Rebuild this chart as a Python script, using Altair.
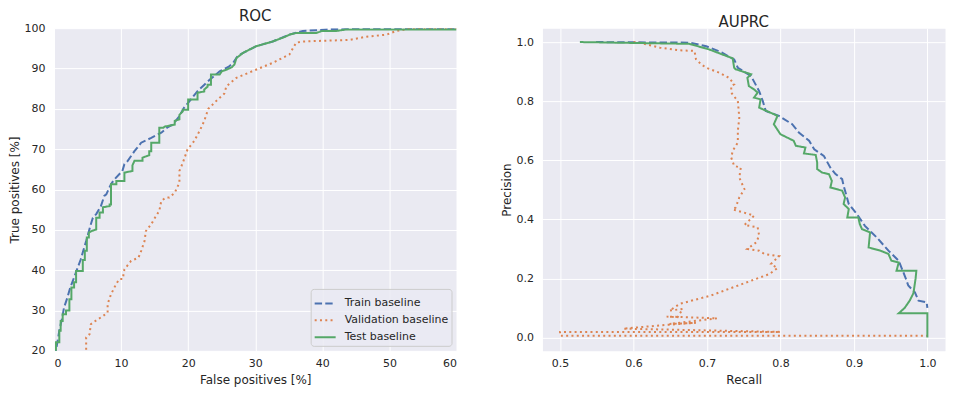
import altair as alt
import pandas as pd

# ---------------- data ----------------
series_names = ["Train baseline", "Validation baseline", "Test baseline"]
series_colors = ["#4C72B0", "#DD8452", "#55A868"]

roc_x_ticks = [0, 10, 20, 30, 40, 50, 60]
roc_y_ticks = [20, 30, 40, 50, 60, 70, 80, 90, 100]
pr_x_ticks = [0.5, 0.6, 0.7, 0.8, 0.9, 1.0]
pr_y_ticks = [0.0, 0.2, 0.4, 0.6, 0.8, 1.0]

roc_train_fp = [0, 0.3, 0.3, 0.8, 1.2, 1.5, 2.0, 2.4, 2.8, 3.4, 4.0, 4.4, 4.8, 5.5, 5.8, 6.3, 7.0, 7.5,
                7.8, 8.5, 9.0, 10.2, 10.5, 11.0, 12.0, 13.0, 14.5, 16.0, 17.0, 17.7, 18.7, 19.4, 20.4,
                21.4, 22.3, 23.2, 24.7, 26.0, 26.7, 27.4, 28.2, 30.1, 32.6, 35.1, 37.1, 41.1, 53.0, 60]
roc_train_tp = [0, 18, 20, 25, 28, 30.7, 33.2, 35.5, 37.3, 40, 42.7, 45, 47.2, 51.4, 53, 53.9, 55.9, 58.4,
                58.8, 61.3, 62.5, 64.6, 66.3, 67.1, 69.5, 71.6, 72.8, 74.1, 75.5, 76.1, 78.2, 80.3, 82.3,
                84.4, 85.8, 87.2, 89.3, 90.4, 91.4, 93.1, 93.9, 95.5, 96.7, 98.4, 99.3, 99.7, 100, 100]

roc_val_fp = [4.8, 4.8, 5.3, 5.5, 6.5, 7.2, 8.0, 8.0, 8.5, 9.25, 9.75, 10.25, 10.5, 11.5, 12.6, 13.0,
              13.5, 13.7, 14.5, 15.2, 15.7, 16.0, 16.7, 17.2, 18.0, 18.7, 18.7, 19.2, 19.9, 20.9, 21.7,
              22.4, 23.0, 23.8, 24.4, 25.4, 25.7, 27.2, 30.1, 32.6, 35.1, 36.1, 37.1, 44.1, 46.6, 49.6,
              51.0, 53.5, 60]
roc_val_tp = [15, 23.3, 24.1, 26.6, 27.8, 28.5, 29.5, 31.6, 34.0, 36.5, 37.8, 37.8, 40.2, 42.3, 43.1, 44.8,
              47.2, 49.7, 51.4, 53.4, 54.7, 57.2, 58.0, 58.0, 59.2, 61.7, 64.6, 66.6, 69.9, 72.0, 74.5,
              77.0, 80.0, 81.3, 82.3, 83.8, 85.6, 87.7, 89.7, 91.4, 93.5, 96.4, 96.7, 97.1, 97.9, 98.4,
              99.3, 100, 100]

roc_test_fp = [0, 0.3, 0.3, 0.8, 0.8, 1.0, 1.0, 1.3, 1.3, 1.8, 1.8, 2.3, 2.3, 2.6, 2.6, 3.0, 3.0, 3.3,
               3.3, 4.3, 4.3, 4.6, 4.6, 4.9, 4.9, 5.2, 5.2, 5.6, 6.3, 6.3, 6.8, 6.8, 7.3, 7.3, 8.3, 8.3,
               8.5, 8.5, 9.3, 9.3, 10.5, 10.5, 11.7, 11.7, 12.0, 13.2, 13.2, 14.2, 14.2, 14.5, 14.5, 15.7,
               15.7, 16.3, 16.5, 18.0, 18.0, 18.7, 18.7, 19.2, 19.2, 20.0, 20.0, 21.4, 21.4, 22.4, 22.4,
               22.9, 22.9, 23.4, 23.4, 24.7, 25.0, 25.7, 26.5, 26.9, 27.2, 28.2, 30.1, 32.6, 34.5, 35.1,
               36.1, 39.1, 39.9, 42.1, 43.6, 60]
roc_test_tp = [0, 0, 22.1, 22.1, 25.0, 25.0, 27.4, 27.4, 29.1, 29.1, 30.0, 30.0, 32.8, 32.8, 35.7, 35.7,
               37.0, 37.0, 39.8, 39.8, 42.5, 42.5, 44.8, 44.8, 48.1, 48.1, 49.3, 49.7, 50.1, 53.0, 53.0,
               54.3, 54.3, 55.6, 55.9, 56.3, 56.3, 61.3, 61.3, 62.1, 62.1, 64.2, 64.6, 66.0, 67.1, 67.1,
               67.9, 68.5, 69.5, 69.5, 71.6, 71.6, 75.3, 75.3, 75.6, 76.1, 77.0, 77.4, 78.5, 79.4, 79.8,
               79.8, 82.3, 82.3, 84.0, 84.3, 84.8, 85.5, 86.0, 86.0, 88.5, 88.5, 89.3, 89.7, 90.3, 91.0,
               92.6, 93.9, 95.5, 96.7, 97.9, 98.4, 98.8, 98.8, 99.3, 99.3, 99.7, 99.7]

pr_train_recall = [0.549, 0.676, 0.699, 0.72, 0.737, 0.742, 0.76, 0.771, 0.776, 0.78, 0.798, 0.816, 0.825,
                   0.839, 0.846, 0.859, 0.868, 0.875, 0.884, 0.886, 0.893, 0.904, 0.915, 0.931, 0.947,
                   0.961, 0.970, 0.974, 0.983, 0.988, 0.999, 1.0]
pr_train_precision = [1.0, 0.998, 0.986, 0.965, 0.941, 0.913, 0.885, 0.834, 0.80, 0.767, 0.75, 0.722, 0.694,
                      0.666, 0.637, 0.615, 0.575, 0.553, 0.536, 0.514, 0.452, 0.418, 0.378, 0.339, 0.294,
                      0.26, 0.204, 0.176, 0.153, 0.125, 0.119, 0.10]

pr_val_recall = [0.60, 0.608, 0.636, 0.663, 0.683, 0.685, 0.692, 0.699, 0.717, 0.730, 0.737, 0.733, 0.733,
                 0.742, 0.744, 0.742, 0.742, 0.735, 0.733, 0.737, 0.746, 0.744, 0.751, 0.744, 0.739, 0.735,
                 0.757, 0.764, 0.751, 0.769, 0.771, 0.767, 0.755, 0.771, 0.778, 0.798, 0.787, 0.796, 0.785,
                 0.705, 0.663, 0.649, 0.667, 0.660, 0.645, 0.714, 0.649, 0.685, 0.636, 0.586, 0.645, 0.80,
                 0.5, 0.5, 1.0]
pr_val_precision = [1.0, 0.998, 0.981, 0.972, 0.970, 0.942, 0.925, 0.913, 0.896, 0.879, 0.857, 0.851, 0.829,
                    0.80, 0.744, 0.70, 0.66, 0.632, 0.609, 0.581, 0.575, 0.541, 0.502, 0.474, 0.440, 0.434,
                    0.418, 0.412, 0.381, 0.373, 0.345, 0.322, 0.30, 0.294, 0.283, 0.275, 0.249, 0.235, 0.215,
                    0.142, 0.114, 0.091, 0.097, 0.069, 0.071, 0.065, 0.046, 0.050, 0.041, 0.030, 0.027, 0.019,
                    0.019, 0.006, 0.006]

pr_test_recall = [0.527, 0.676, 0.703, 0.721, 0.735, 0.737, 0.739, 0.760, 0.755, 0.757, 0.764, 0.769, 0.764,
                  0.773, 0.771, 0.791, 0.796, 0.791, 0.800, 0.818, 0.821, 0.834, 0.832, 0.848, 0.850, 0.850,
                  0.857, 0.866, 0.870, 0.868, 0.884, 0.888, 0.886, 0.893, 0.891, 0.906, 0.908, 0.911, 0.922,
                  0.920, 0.936, 0.947, 0.951, 0.961, 0.958, 0.985, 0.984, 0.981, 0.976, 0.969, 0.961, 1.0, 1.0]
pr_test_precision = [1.0, 0.994, 0.975, 0.958, 0.945, 0.913, 0.908, 0.891, 0.879, 0.851, 0.840, 0.829, 0.812,
                     0.806, 0.778, 0.756, 0.75, 0.722, 0.688, 0.666, 0.649, 0.643, 0.623, 0.618, 0.592, 0.570,
                     0.558, 0.553, 0.530, 0.508, 0.497, 0.474, 0.452, 0.435, 0.406, 0.406, 0.384, 0.367, 0.356,
                     0.305, 0.294, 0.283, 0.26, 0.254, 0.226, 0.226, 0.20, 0.15, 0.125, 0.10, 0.082, 0.082, 0.0]


def frame(xs, ys, name):
    return pd.DataFrame({"x": xs, "y": ys, "series": name, "idx": list(range(len(xs)))})


roc_sets = [(roc_train_fp, roc_train_tp), (roc_val_fp, roc_val_tp), (roc_test_fp, roc_test_tp)]
pr_sets = [(pr_train_recall, pr_train_precision), (pr_val_recall, pr_val_precision),
           (pr_test_recall, pr_test_precision)]

color_scale = alt.Scale(domain=series_names, range=series_colors)
dash_scale = alt.Scale(domain=series_names, range=[[7.4, 3.2], [2, 3.3], [1, 0]])

legend = alt.Legend(title=None, orient="bottom-right", offset=5, padding=3, rowPadding=-9,
                    symbolType="stroke", symbolSize=441, symbolStrokeWidth=2, labelOffset=8,
                    labelFontSize=11, labelFont="DejaVu Sans", labelColor="#262626",
                    fillColor="rgba(234,234,242,0.8)", strokeColor="#CCCCCC", cornerRadius=3)


def panel(sets, xdom, ydom, xticks, yticks, xtitle, ytitle, title, show_legend, xfmt, yfmt):
    layers = []
    for (xs, ys), name in zip(sets, series_names):
        df = frame(xs, ys, name)
        if show_legend:
            col = alt.Color("series:N", scale=color_scale, legend=legend)
            dash = alt.StrokeDash("series:N", scale=dash_scale, legend=legend)
        else:
            col = alt.Color("series:N", scale=color_scale, legend=None)
            dash = alt.StrokeDash("series:N", scale=dash_scale, legend=None)
        layers.append(
            alt.Chart(df).mark_line(strokeWidth=2, clip=True).encode(
                x=alt.X("x:Q", scale=alt.Scale(domain=xdom, nice=False, zero=False),
                        axis=alt.Axis(title=xtitle, values=xticks, format=xfmt)),
                y=alt.Y("y:Q", scale=alt.Scale(domain=ydom, nice=False, zero=False),
                        axis=alt.Axis(title=ytitle, values=yticks, format=yfmt)),
                color=col,
                strokeDash=dash,
                order=alt.Order("idx:Q"),
            )
        )
    return alt.layer(*layers).properties(width=403, height=323,
                                         title=alt.Title(title, frame="group"))


left = panel(roc_sets, [0, 60], [20, 100], roc_x_ticks, roc_y_ticks,
             "False positives [%]", "True positives [%]", "ROC", True, "d", "d")
right = panel(pr_sets, [0.476, 1.024], [-0.045, 1.047], pr_x_ticks, pr_y_ticks,
              "Recall", "Precision", "AUPRC", False, ".1f", ".1f")

chart = (
    alt.hconcat(left, right, spacing=43)
    .resolve_legend(color="independent", strokeDash="independent")
    .properties(padding=0, background="white")
    .configure_view(fill="#EAEAF2", stroke="transparent")
    .configure_axis(grid=True, gridColor="white", gridWidth=1, domain=False, ticks=False,
                    labelFont="DejaVu Sans", labelFontSize=11, labelColor="#262626",
                    titleFont="DejaVu Sans", titleFontSize=12, titleColor="#262626",
                    titleFontWeight="normal")
    .configure_axisX(labelPadding=7, titlePadding=6)
    .configure_axisY(labelPadding=9, titlePadding=2)
    .configure_title(font="DejaVu Sans", fontSize=15, fontWeight="normal", color="#262626",
                     offset=-2)
)

chart.save("out.html", embed_options={"renderer": "svg", "actions": False})
